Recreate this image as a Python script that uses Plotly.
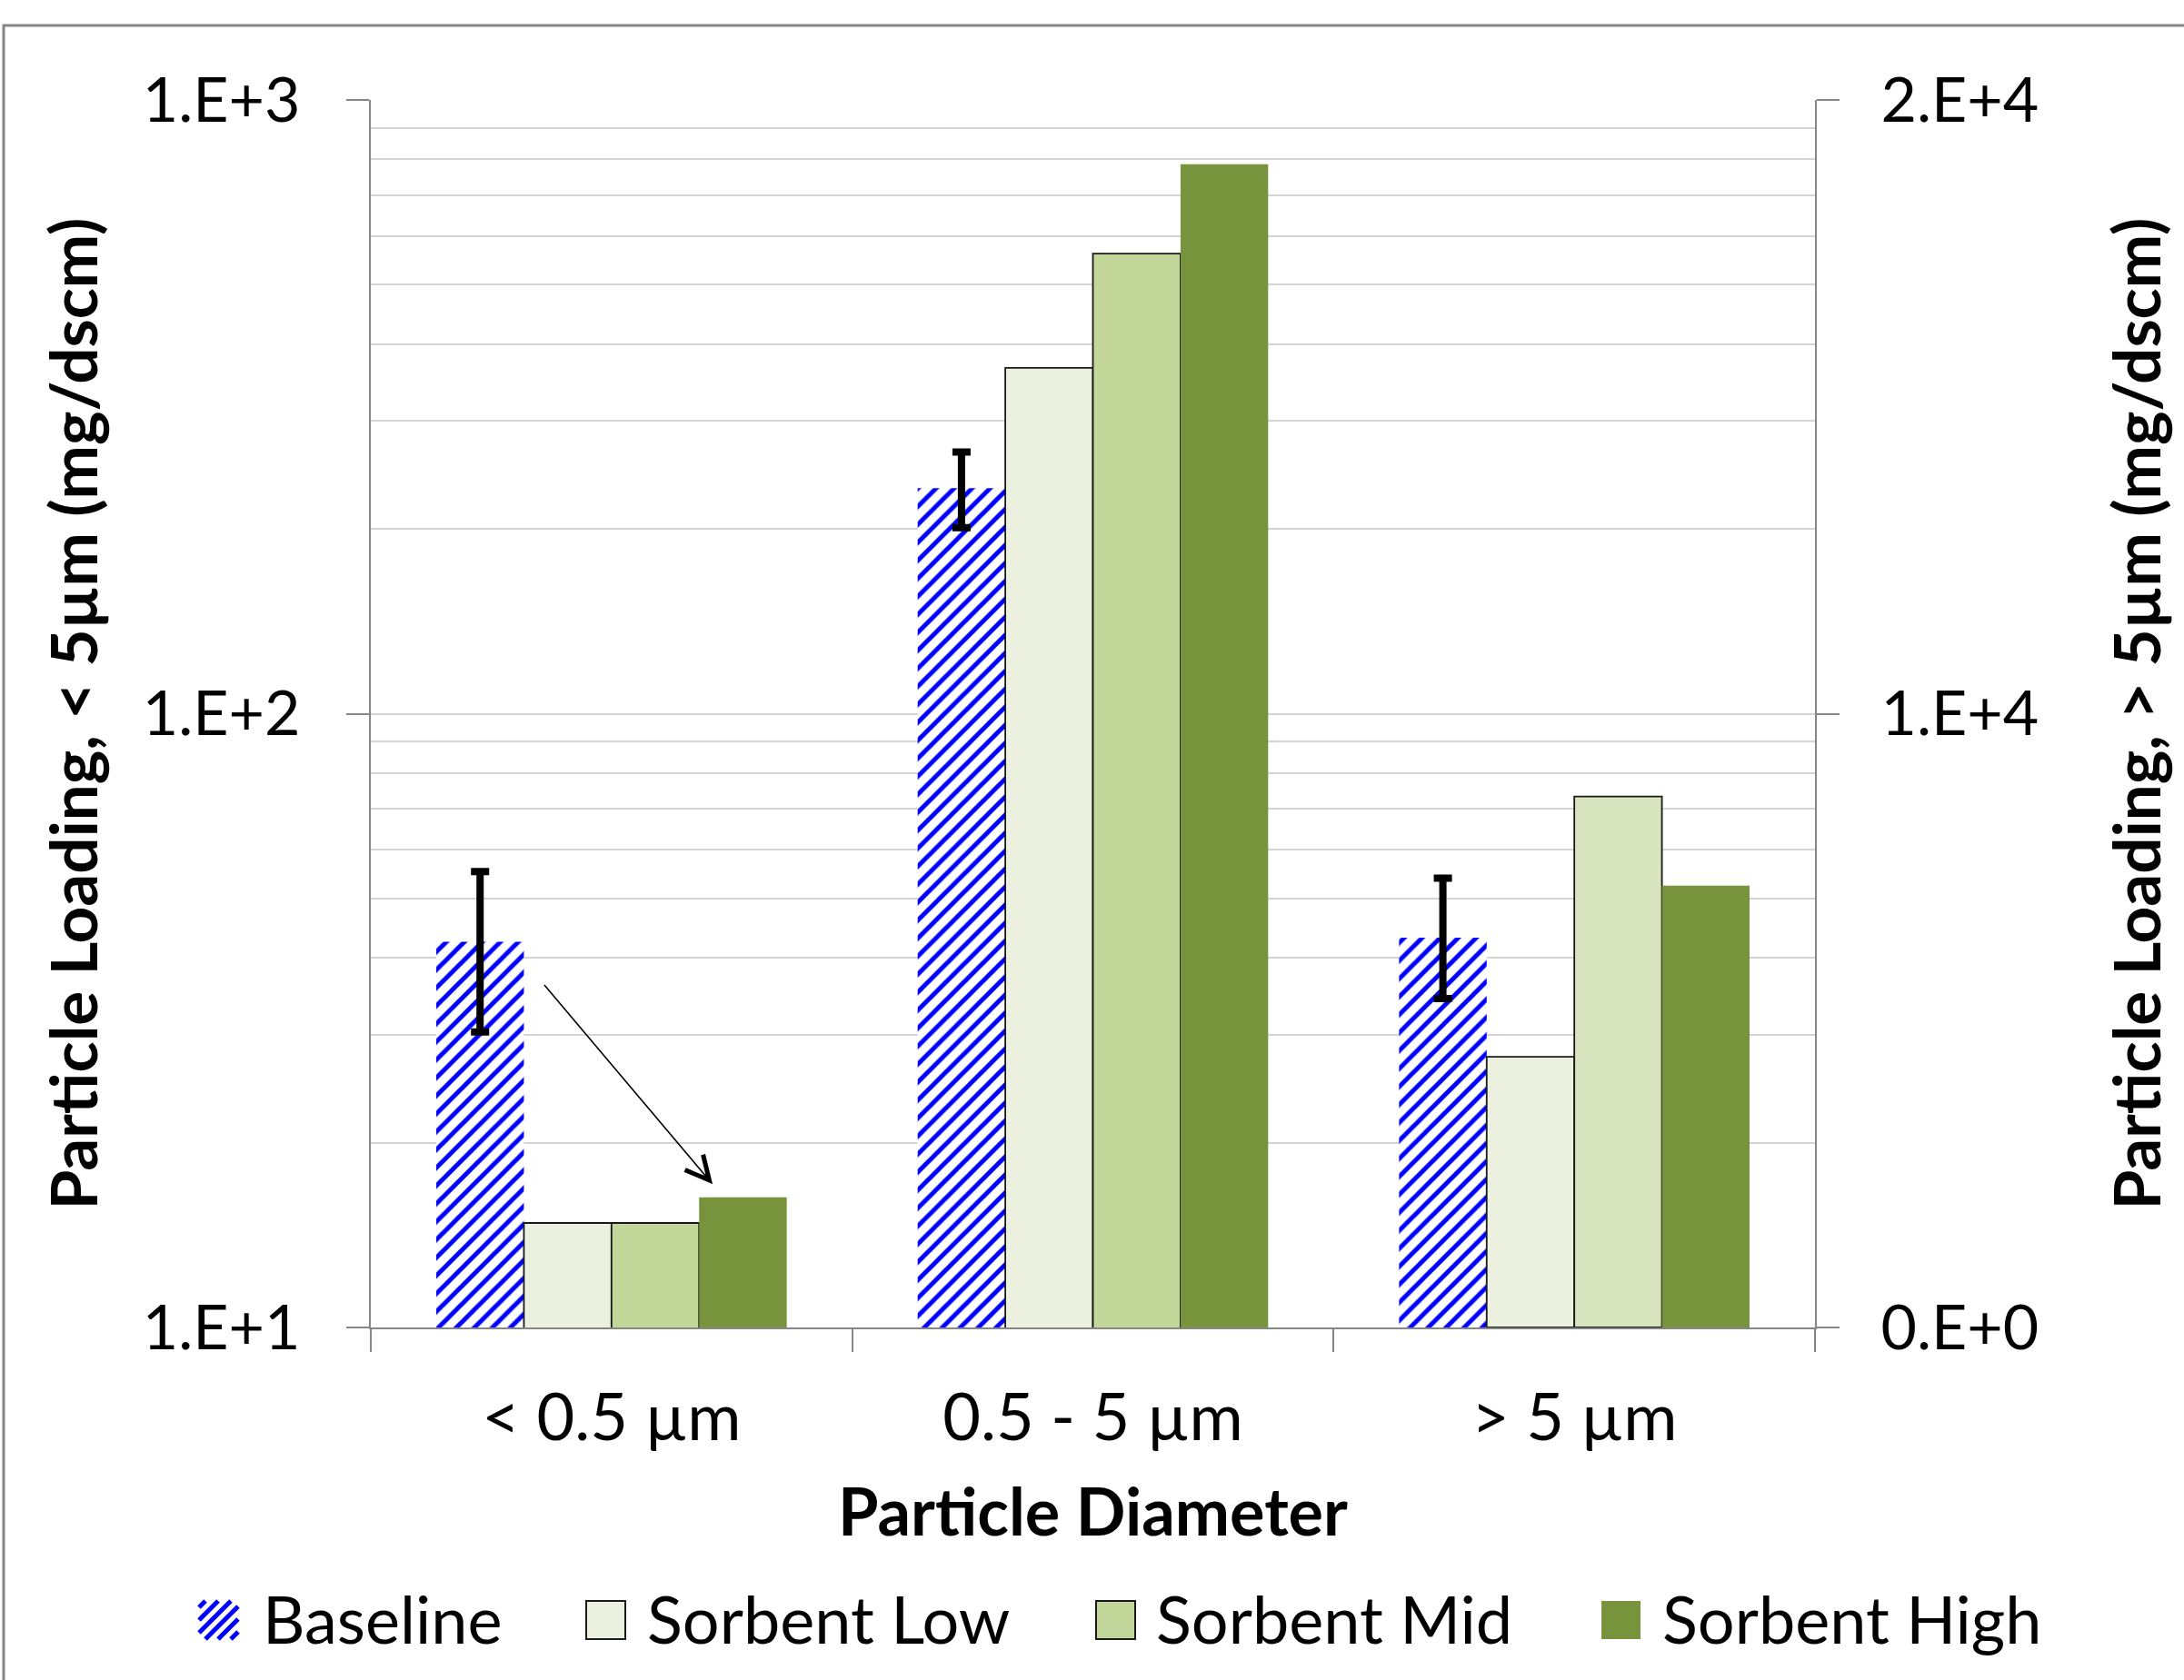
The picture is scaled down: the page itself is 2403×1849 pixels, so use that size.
import plotly.graph_objects as go
import numpy as np

# ---------------- data ----------------
categories = ['< 0.5 µm', '0.5 - 5 µm', '> 5 µm']
series = ['Baseline', 'Sorbent Low', 'Sorbent Mid', 'Sorbent High']

# left (log) axis: particles < 5 µm  (mg/dscm)
fine_categories = ['< 0.5 µm', '0.5 - 5 µm']
baseline_fine = [42.5, 233.0]
baseline_fine_hi = [55.3, 267.0]
baseline_fine_lo = [30.3, 201.0]
low_fine = [14.8, 366.0]
mid_fine = [14.8, 562.0]
high_fine = [16.3, 786.0]

# right (linear) axis: particles > 5 µm (mg/dscm)
coarse_categories = ['> 5 µm']
baseline_coarse = [6350.0]
baseline_coarse_hi = [7320.0]
baseline_coarse_lo = [5360.0]
low_coarse = [4410.0]
mid_coarse = [8650.0]
high_coarse = [7200.0]

left_tickvals = [10, 100, 1000]
left_ticktext = ['1.E+1', '1.E+2', '1.E+3']
right_tickvals = [0, 10000, 20000]
right_ticktext = ['0.E+0', '1.E+4', '2.E+4']

# ---------------- styling ----------------
W, H = 2403, 1849
ML, MR, MT, MB = 408, 406, 110, 388
PW, PH = W - ML - MR, H - MT - MB
FONT = 'Lato'
FS_TICK = 68
FS = 72
FS_TITLE = 71
AXIS_GRAY = '#868686'
GRID = '#d4d4d4'
BLUE = '#0000ff'
C_LOW = '#ebf1de'
C_MID = '#c4d79b'
C_MID2 = '#d7e4bd'
C_HIGH = '#77933c'
HATCH = dict(shape='/', fgcolor=BLUE, bgcolor='white', size=14, solidity=0.36,
             fgopacity=1, fillmode='replace')

bw = 0.182
offsets = [-2 * bw, -bw, 0.0, bw]

fig = go.Figure()

fine_vals = [baseline_fine, low_fine, mid_fine, high_fine]
coarse_vals = [baseline_coarse, low_coarse, mid_coarse, high_coarse]
fine_colors = ['white', C_LOW, C_MID, C_HIGH]
coarse_colors = ['white', C_LOW, C_MID2, C_HIGH]
line_w = [0, 1.8, 1.8, 0]

for i, name in enumerate(series):
    for cats, vals, colors, yax, hi, lo in [
        (fine_categories, fine_vals[i], fine_colors, 'y', baseline_fine_hi, baseline_fine_lo),
        (coarse_categories, coarse_vals[i], coarse_colors, 'y2', baseline_coarse_hi, baseline_coarse_lo),
    ]:
        marker = dict(color=colors[i], line=dict(color='#1a1a1a', width=line_w[i]))
        if i == 0:
            marker['pattern'] = HATCH
            err = dict(type='data', symmetric=False,
                       array=[h - v for h, v in zip(hi, vals)],
                       arrayminus=[v - l for v, l in zip(vals, lo)],
                       color='black', thickness=8, width=10)
        else:
            err = None
        fig.add_trace(go.Bar(
            x=cats, y=vals, name=name, yaxis=yax,
            offset=offsets[i], width=bw, marker=marker,
            error_y=err, showlegend=False,
        ))

# arrow from baseline bar top down to sorbent high bar (< 0.5 µm group)
fig.add_annotation(
    x=offsets[3] + bw / 2 - 0.063, y=np.log10(high_fine[0] * 1.05),
    ax=offsets[0] + bw + 0.04, ay=np.log10(baseline_fine[0] * 0.855),
    xref='x', yref='y', axref='x', ayref='y',
    showarrow=True, arrowhead=5, arrowsize=3.2, arrowwidth=1.6, arrowcolor='black', text='',
)

axis_common = dict(
    showline=True, linecolor=AXIS_GRAY, linewidth=2,
    ticks='outside', ticklen=25, tickwidth=2, tickcolor=AXIS_GRAY,
    automargin=False, zeroline=False,
)
title_font = dict(family=FONT, size=FS_TITLE, weight='bold', color='black')

minor_vals = [m * 10 ** e for e in (1, 2) for m in range(2, 10)]

fig.update_layout(
    width=W, height=H,
    margin=dict(l=ML, r=MR, t=MT, b=MB),
    paper_bgcolor='white', plot_bgcolor='white',
    font=dict(family=FONT, size=FS, color='black'),
    showlegend=False, barmode='overlay',
    xaxis=dict(
        type='category', categoryorder='array', categoryarray=categories,
        range=[-0.5, 2.5], tickson='boundaries', showgrid=False,
        ticklabelstandoff=36,
        tickfont=dict(family=FONT, size=FS, color='black'),
        title=dict(text='Particle Diameter', standoff=40,
                   font=dict(family=FONT, size=FS, weight='bold', color='black')),
        **axis_common,
    ),
    yaxis=dict(
        type='log', range=[1, 3], tickmode='array',
        tickvals=left_tickvals, ticktext=left_ticktext,
        showgrid=True, gridcolor=GRID, gridwidth=2,
        minor=dict(tickvals=minor_vals, showgrid=True, gridcolor=GRID, gridwidth=2, ticks=''),
        ticklabelstandoff=37,
        tickfont=dict(family=FONT, size=FS_TICK, color='black'),
        title=dict(text='Particle Loading, < 5µm (mg/dscm)', standoff=26, font=title_font),
        **axis_common,
    ),
    yaxis2=dict(
        overlaying='y', side='right', range=[0, 20000], tickmode='array',
        tickvals=right_tickvals, ticktext=right_ticktext, showgrid=False,
        ticklabelstandoff=32,
        tickfont=dict(family=FONT, size=FS_TICK, color='black'),
        title=dict(text='Particle Loading, > 5µm (mg/dscm)', standoff=85, font=title_font),
        **axis_common,
    ),
)


def px_to_paper_x(px):
    return (px - ML) / PW


def px_to_paper_y(py):
    return (H - MB - py) / PH


# outer chart frame (only top and left edges fall inside the picture)
fig.add_shape(type='rect', xref='paper', yref='paper',
              x0=px_to_paper_x(4), x1=px_to_paper_x(W + 40),
              y0=px_to_paper_y(H + 40), y1=px_to_paper_y(28),
              line=dict(color=AXIS_GRAY, width=3), fillcolor='rgba(0,0,0,0)', layer='below')

# ---------------- legend (drawn) ----------------
leg_y0, leg_y1 = 1762, 1804
leg_items = [
    ('Baseline', 219, 287),
    ('Sorbent Low', 645, 710),
    ('Sorbent Mid', 1206, 1270),
    ('Sorbent High', 1762, 1827),
]
sw = 43
# hatched swatch
x0, x1 = leg_items[0][1], leg_items[0][1] + sw
segs = []
period = 14
c = x0 + leg_y0 + period / 2
while c < x1 + leg_y1:
    pts = []
    for (xa, ya) in [(x0, c - x0), (x1, c - x1), (c - leg_y0, leg_y0), (c - leg_y1, leg_y1)]:
        if x0 - 1e-6 <= xa <= x1 + 1e-6 and leg_y0 - 1e-6 <= ya <= leg_y1 + 1e-6:
            pts.append((xa, ya))
    pts = sorted(set((round(a, 3), round(b, 3)) for a, b in pts))
    if len(pts) >= 2:
        (xa, ya), (xb, yb) = pts[0], pts[-1]
        segs.append(f'M{px_to_paper_x(xa):.5f},{px_to_paper_y(ya):.5f}L{px_to_paper_x(xb):.5f},{px_to_paper_y(yb):.5f}')
    c += period
fig.add_shape(type='path', xref='paper', yref='paper', path=' '.join(segs),
              line=dict(color=BLUE, width=5))

swatch_styles = [None, (C_LOW, '#1a1a1a', 2), (C_MID, '#1a1a1a', 2), (C_HIGH, C_HIGH, 0)]
for (label, sx, tx), st in zip(leg_items, swatch_styles):
    if st is not None:
        fig.add_shape(type='rect', xref='paper', yref='paper',
                      x0=px_to_paper_x(sx), x1=px_to_paper_x(sx + sw),
                      y0=px_to_paper_y(leg_y1), y1=px_to_paper_y(leg_y0),
                      fillcolor=st[0], line=dict(color=st[1], width=st[2]))
    fig.add_annotation(xref='paper', yref='paper', x=px_to_paper_x(tx), y=px_to_paper_y((leg_y0 + leg_y1) / 2 - 2),
                       xanchor='left', yanchor='middle', text=label, showarrow=False,
                       font=dict(family=FONT, size=FS, color='black'))

fig.write_html('out.html', config={'displayModeBar': False},
               post_script="document.body.style.margin='0';")
